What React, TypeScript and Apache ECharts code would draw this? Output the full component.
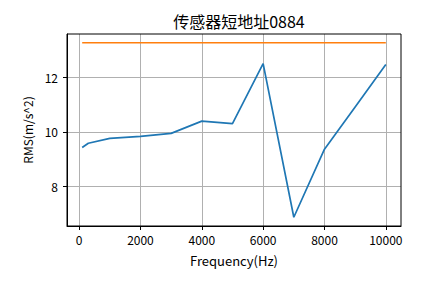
import React, { useEffect, useRef } from "react";
import * as echarts from "echarts";

const titleText = "传感器短地址0884";
const xName = "Frequency(Hz)";
const yName = "RMS(m/s^2)";
const frequencies = [100, 300, 1000, 2000, 3000, 4000, 5000, 6000, 7000, 8000, 9000, 10000];
const rmsValues = [9.42, 9.58, 9.76, 9.83, 9.94, 10.39, 10.3, 12.5, 6.86, 9.36, 10.91, 12.47];
const limitValue = 13.27;
const xTicks = [0, 2000, 4000, 6000, 8000, 10000];
const yTicks = [8, 10, 12];

const FONT = "'Noto Sans CJK SC', 'DejaVu Sans', sans-serif";

export default function App() {
  const ref = useRef<HTMLDivElement>(null);
  useEffect(() => {
    if (!ref.current) return;
    const chart = echarts.init(ref.current, undefined, { renderer: "svg" });
    const blue = frequencies.map((f, i) => [f, rmsValues[i]]);
    const orange = frequencies.map((f) => [f, limitValue]);
    const span = frequencies[frequencies.length - 1] - frequencies[0];
    const xMin = frequencies[0] - 0.05 * span;
    const xMax = frequencies[frequencies.length - 1] + 0.05 * span;
    const yLo = Math.min(...rmsValues, limitValue);
    const yHi = Math.max(...rmsValues, limitValue);
    const yMin = yLo - 0.05 * (yHi - yLo);
    const yMax = yHi + 0.05 * (yHi - yLo);
    chart.setOption({
      animation: false,
      backgroundColor: "#fff",
      title: {
        text: titleText,
        left: 234,
        top: 8,
        textAlign: "center",
        textStyle: { fontFamily: FONT, fontSize: 16, fontWeight: "normal", color: "#000" },
      },
      grid: {
        left: 67,
        right: 44,
        top: 34,
        bottom: 57,
        show: true,
        borderColor: "#000",
        borderWidth: 1,
        backgroundColor: "transparent",
        z: 10,
      },
      xAxis: {
        type: "value",
        min: xMin,
        max: xMax,
        name: xName,
        nameLocation: "middle",
        nameGap: 28,
        nameTextStyle: { fontFamily: FONT, fontSize: 13, color: "#000" },
        axisLine: { show: true, onZero: false, lineStyle: { color: "#000", width: 1 } },
        axisTick: { show: true, length: 4, inside: false, customValues: xTicks, lineStyle: { color: "#000" } },
        axisLabel: {
          customValues: xTicks,
          margin: 7,
          fontFamily: FONT,
          fontSize: 12,
          color: "#000",
          formatter: (v: number) => String(v),
        },
        splitLine: { show: true, lineStyle: { color: "#b0b0b0", width: 1 } },
      },
      yAxis: {
        type: "value",
        min: yMin,
        max: yMax,
        name: yName,
        nameLocation: "middle",
        nameGap: 29,
        nameRotate: 90,
        nameTextStyle: { fontFamily: FONT, fontSize: 12, color: "#000" },
        axisLine: { show: true, onZero: false, lineStyle: { color: "#000", width: 1 } },
        axisTick: { show: true, length: 4, inside: false, customValues: yTicks, lineStyle: { color: "#000" } },
        axisLabel: {
          customValues: yTicks,
          margin: 9,
          fontFamily: FONT,
          fontSize: 12,
          color: "#000",
          formatter: (v: number) => String(v),
        },
        splitLine: { show: true, lineStyle: { color: "#b0b0b0", width: 1 } },
      },
      series: [
        {
          type: "line",
          data: blue,
          showSymbol: false,
          symbol: "none",
          lineStyle: { color: "#1f77b4", width: 1.7 },
          itemStyle: { color: "#1f77b4" },
        },
        {
          type: "line",
          data: orange,
          showSymbol: false,
          symbol: "none",
          lineStyle: { color: "#ff7f0e", width: 1.7 },
          itemStyle: { color: "#ff7f0e" },
        },
      ],
    });
    return () => chart.dispose();
  }, []);
  return (
    <div
      ref={ref}
      style={{ position: "fixed", left: 0, top: 0, width: 445, height: 283, background: "#fff" }}
    />
  );
}
